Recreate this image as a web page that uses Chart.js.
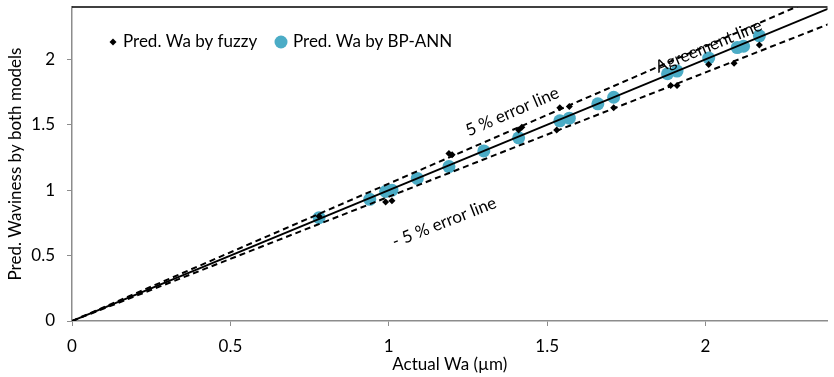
<!DOCTYPE html>
<html>
<head>
<meta charset="utf-8">
<script src="https://cdn.jsdelivr.net/npm/chart.js"></script>
<style>
  html, body { margin: 0; padding: 0; background: #fff; }
  #wrap { width: 834px; height: 377px; }
</style>
</head>
<body>
<div id="wrap"><canvas id="chart"></canvas></div>
<script>
// measured vs predicted waviness
const fuzzyActual = [0.78, 0.99, 1.01, 1.19, 1.20, 1.41, 1.42, 1.53, 1.54, 1.57, 1.71, 1.89, 1.91, 2.01, 2.09, 2.17];
const fuzzyPred   = [0.80, 0.91, 0.92, 1.28, 1.27, 1.46, 1.48, 1.46, 1.63, 1.64, 1.63, 1.80, 1.80, 1.96, 1.97, 2.11];

const annActual = [0.78, 0.94, 0.99, 1.01, 1.09, 1.19, 1.30, 1.41, 1.54, 1.57, 1.66, 1.71, 1.88, 1.91, 2.01, 2.10, 2.12, 2.17];
const annPred   = [0.79, 0.93, 0.99, 1.00, 1.09, 1.18, 1.30, 1.40, 1.53, 1.55, 1.66, 1.71, 1.89, 1.91, 2.01, 2.09, 2.10, 2.18];

// reference lines
const lineX = [0, 2.4];
const agreementY = [0, 2.4];
const plus5Y = [0, 2.52];
const minus5Y = [0, 2.28];

const xTicks = [0, 0.5, 1, 1.5, 2];
const yTicks = [0, 0.5, 1, 1.5, 2];

const seriesNames = ['Pred. Wa by fuzzy', 'Pred. Wa by BP-ANN'];
const annColor = '#4bacc6';
const axisColor = '#8c8c8c';
const fontFamily = 'Lato, "Open Sans", sans-serif';

const toPoints = (xs, ys) => xs.map((x, i) => ({ x: x, y: ys[i] }));

const decorations = {
    id: 'decorations',
    afterDatasetsDraw(chart) {
        const ctx = chart.ctx;
        const area = chart.chartArea;
        const xs = chart.scales.x;
        const ys = chart.scales.y;

        // top frame line
        ctx.save();
        ctx.strokeStyle = '#000';
        ctx.lineWidth = 1.5;
        ctx.beginPath();
        ctx.moveTo(area.left, area.top);
        ctx.lineTo(area.right, area.top);
        ctx.stroke();
        ctx.restore();

        // legend inside plot
        ctx.save();
        ctx.font = '17px ' + fontFamily;
        ctx.fillStyle = '#000';
        ctx.textBaseline = 'middle';
        const ly = area.top + 35;
        ctx.beginPath();
        ctx.moveTo(113, ly - 3.5);
        ctx.lineTo(116.5, ly);
        ctx.lineTo(113, ly + 3.5);
        ctx.lineTo(109.5, ly);
        ctx.closePath();
        ctx.fill();
        ctx.fillText(seriesNames[0], 123, ly);
        ctx.fillStyle = annColor;
        ctx.beginPath();
        ctx.arc(281, ly, 6.5, 0, Math.PI * 2);
        ctx.fill();
        ctx.fillStyle = '#000';
        ctx.fillText(seriesNames[1], 293, ly);
        ctx.restore();

        // rotated line labels
        const angleFor = (slope) => {
            const dx = xs.getPixelForValue(2) - xs.getPixelForValue(0);
            const dy = ys.getPixelForValue(2 * slope) - ys.getPixelForValue(0);
            return Math.atan2(dy, dx);
        };
        const label = (text, x, y, slope) => {
            ctx.save();
            ctx.translate(xs.getPixelForValue(x), ys.getPixelForValue(y));
            ctx.rotate(angleFor(slope));
            ctx.font = '17px ' + fontFamily;
            ctx.fillStyle = '#000';
            ctx.textAlign = 'center';
            ctx.textBaseline = 'middle';
            ctx.fillText(text, 0, 0);
            ctx.restore();
        };
        label('5 % error line', 1.39, 1.60, 1.05);
        label('- 5 % error line', 1.175, 0.755, 0.95);
        label('Agreement line', 2.01, 2.10, 1.0);
    }
};

new Chart(document.getElementById('chart').getContext('2d'), {
    type: 'scatter',
    data: {
        datasets: [
            {
                label: 'Agreement line',
                type: 'line',
                data: toPoints(lineX, agreementY),
                borderColor: '#000',
                borderWidth: 2,
                pointRadius: 0,
                fill: false,
                order: 0
            },
            {
                label: '5 % error line',
                type: 'line',
                data: toPoints(lineX, plus5Y),
                borderColor: '#000',
                borderWidth: 2,
                borderDash: [6, 4],
                pointRadius: 0,
                fill: false,
                order: 0
            },
            {
                label: '- 5 % error line',
                type: 'line',
                data: toPoints(lineX, minus5Y),
                borderColor: '#000',
                borderWidth: 2,
                borderDash: [6, 4],
                pointRadius: 0,
                fill: false,
                order: 0
            },
            {
                label: seriesNames[0],
                data: toPoints(fuzzyActual, fuzzyPred),
                pointStyle: 'rectRot',
                pointRadius: 3.5,
                backgroundColor: '#000',
                borderColor: '#000',
                borderWidth: 0,
                order: 1
            },
            {
                label: seriesNames[1],
                data: toPoints(annActual, annPred),
                pointStyle: 'circle',
                pointRadius: 6.5,
                backgroundColor: annColor,
                borderColor: annColor,
                borderWidth: 0,
                order: 2
            }
        ]
    },
    options: {
        responsive: true,
        maintainAspectRatio: false,
        animation: false,
        layout: { padding: { top: 7, right: 0, left: 0, bottom: 0 } },
        plugins: {
            legend: { display: false },
            tooltip: { enabled: false },
            title: { display: false }
        },
        scales: {
            x: {
                type: 'linear',
                min: 0,
                max: 2.385,
                afterBuildTicks: (scale) => { scale.ticks = xTicks.map(v => ({ value: v })); },
                afterFit: (scale) => {
                    scale.height = 56;
                    scale.paddingLeft = 0;
                    scale.paddingRight = 0;
                },
                title: {
                    display: true,
                    text: 'Actual Wa (\u00b5m)',
                    color: '#000',
                    font: { family: fontFamily, size: 17 },
                    padding: { top: 1, bottom: 2 }
                },
                ticks: {
                    color: '#000',
                    padding: 10,
                    font: { family: fontFamily, size: 17 },
                    callback: (v) => String(v)
                },
                grid: {
                    drawOnChartArea: false,
                    color: axisColor,
                    tickLength: 5
                },
                border: { color: axisColor, width: 1.5 }
            },
            y: {
                type: 'linear',
                min: 0,
                max: 2.4,
                afterBuildTicks: (scale) => { scale.ticks = yTicks.map(v => ({ value: v })); },
                afterFit: (scale) => {
                    scale.width = 72;
                    scale.paddingTop = 0;
                    scale.paddingBottom = 0;
                },
                title: {
                    display: true,
                    text: 'Pred. Waviness by both models',
                    color: '#000',
                    font: { family: fontFamily, size: 17 },
                    padding: { top: 5, bottom: 5 }
                },
                ticks: {
                    color: '#000',
                    padding: 12,
                    font: { family: fontFamily, size: 17 },
                    callback: (v) => String(v)
                },
                grid: {
                    drawOnChartArea: false,
                    color: axisColor,
                    tickLength: 5
                },
                border: { color: axisColor, width: 1.5 }
            }
        }
    },
    plugins: [decorations]
});
</script>
</body>
</html>
